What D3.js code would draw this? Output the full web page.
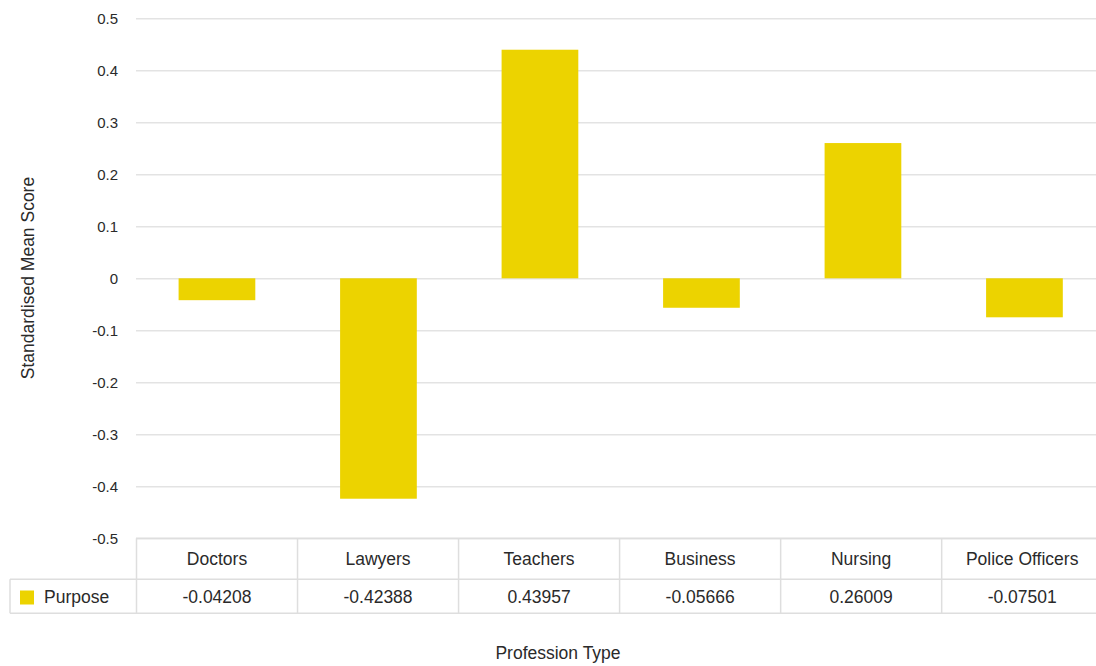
<!DOCTYPE html>
<html>
<head>
<meta charset="utf-8">
<script src="https://cdn.jsdelivr.net/npm/d3@7"></script>
<style>
  html, body { margin: 0; padding: 0; background: #fff; }
  svg { display: block; font-family: "Liberation Sans", Arial, Helvetica, sans-serif; }
</style>
</head>
<body>
<svg id="chart" width="1096" height="666"></svg>
<script>
const categories = ["Doctors", "Lawyers", "Teachers", "Business", "Nursing", "Police Officers"];
const seriesName = "Purpose";
const values = [-0.04208, -0.42388, 0.43957, -0.05666, 0.26009, -0.07501];
const valueLabels = ["-0.04208", "-0.42388", "0.43957", "-0.05666", "0.26009", "-0.07501"];
const yTicks = [0.5, 0.4, 0.3, 0.2, 0.1, 0, -0.1, -0.2, -0.3, -0.4, -0.5];
const yTickLabels = ["0.5", "0.4", "0.3", "0.2", "0.1", "0", "-0.1", "-0.2", "-0.3", "-0.4", "-0.5"];

const svg = d3.select("#chart");
const W = 1096, H = 666;
const plotLeft = 136;
const yTop = 18.3, yBottom = 538.3;
const barColor = "#ECD300";
const textColor = "#2a2a2a";
const gridColor = "#e3e3e3";
const tableColor = "#dedede";

const x = d3.scaleBand().domain(categories).range([136.2, 1105.2]).paddingInner(0.525).paddingOuter(0.2625);
const xCell = d3.scaleBand().domain(categories).range([136.5, 1102.7]).padding(0);
const y = d3.scaleLinear().domain([-0.5, 0.5]).range([yBottom, yTop]);

// gridlines + tick labels
const yAxis = d3.axisLeft(y).tickValues(yTicks).tickSize(-(W - plotLeft)).tickPadding(18)
  .tickFormat((d, i) => yTickLabels[i]);
const gy = svg.append("g").attr("transform", `translate(${plotLeft},0)`).call(yAxis);
gy.select(".domain").remove();
gy.selectAll(".tick line").attr("stroke", gridColor).attr("stroke-width", 1.5);
gy.selectAll(".tick text").attr("fill", textColor).attr("font-size", 15).attr("dy", "0.35em");

// bars
svg.append("g").selectAll("rect").data(values).join("rect")
  .attr("x", (d, i) => x(categories[i]))
  .attr("width", x.bandwidth())
  .attr("y", d => Math.min(y(d), y(0)))
  .attr("height", d => Math.abs(y(d) - y(0)))
  .attr("fill", barColor);

// data table
const rowTop = yBottom, rowMid = 579.3, rowBot = 613.3, legendLeft = 10;
const tg = svg.append("g");
const hl = (x1, x2, yy) => tg.append("line").attr("x1", x1).attr("x2", x2).attr("y1", yy).attr("y2", yy)
  .attr("stroke", tableColor).attr("stroke-width", 1.5);
hl(plotLeft, W, rowTop);
hl(legendLeft, W, rowMid);
hl(legendLeft, W, rowBot);
tg.append("line").attr("x1", legendLeft).attr("x2", legendLeft).attr("y1", rowMid).attr("y2", rowBot)
  .attr("stroke", tableColor).attr("stroke-width", 1.5);
tg.selectAll("line.v").data(categories).join("line").attr("class", "v")
  .attr("x1", d => xCell(d)).attr("x2", d => xCell(d))
  .attr("y1", rowTop).attr("y2", rowBot)
  .attr("stroke", tableColor).attr("stroke-width", 1.5);

tg.selectAll("text.cat").data(categories).join("text").attr("class", "cat")
  .attr("x", d => xCell(d) + xCell.bandwidth() / 2)
  .attr("y", 565)
  .attr("text-anchor", "middle").attr("font-size", 17.5).attr("fill", textColor)
  .text(d => d);
tg.selectAll("text.val").data(valueLabels).join("text").attr("class", "val")
  .attr("x", (d, i) => xCell(categories[i]) + xCell.bandwidth() / 2)
  .attr("y", 603)
  .attr("text-anchor", "middle").attr("font-size", 17.5).attr("fill", textColor)
  .text(d => d);

// legend cell
tg.append("rect").attr("x", 20).attr("y", 590.5).attr("width", 14).attr("height", 14).attr("fill", barColor);
tg.append("text").attr("x", 44).attr("y", 603).attr("font-size", 17.5).attr("fill", textColor).text(seriesName);

// axis titles
svg.append("text").attr("x", 558).attr("y", 659).attr("text-anchor", "middle")
  .attr("font-size", 17.5).attr("fill", textColor).text("Profession Type");
svg.append("text").attr("transform", `translate(34,278) rotate(-90)`).attr("text-anchor", "middle")
  .attr("font-size", 17.5).attr("fill", textColor).text("Standardised Mean Score");
</script>
</body>
</html>
